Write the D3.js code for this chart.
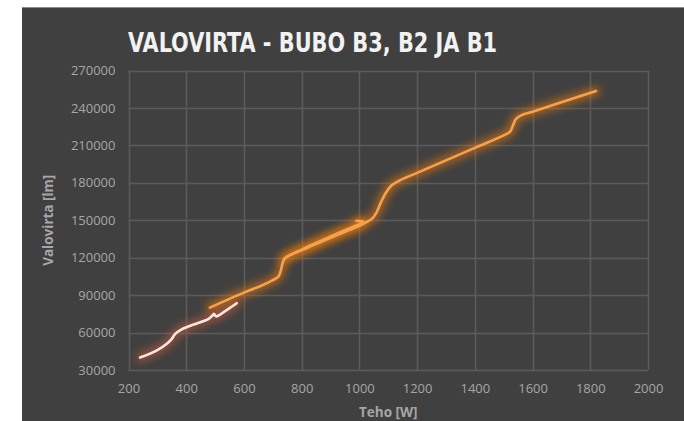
<!DOCTYPE html>
<html><head><meta charset="utf-8">
<script src="https://cdn.jsdelivr.net/npm/d3@7"></script>
<style>
html,body{margin:0;padding:0;background:#fff;}
svg{display:block;}
</style></head>
<body>
<svg id="chart" width="684" height="421"></svg>
<script>
// ---- data ----
const title = "VALOVIRTA - BUBO B3, B2 JA B1";
const xTitle = "Teho [W]";
const yTitle = "Valovirta [lm]";
const xTicks = [200, 400, 600, 800, 1000, 1200, 1400, 1600, 1800, 2000];
const yTicks = [30000, 60000, 90000, 120000, 150000, 180000, 210000, 240000, 270000];

const b1Watts  = [240, 300, 335, 350, 362, 380, 420, 478, 490, 496, 503, 540, 575];
const b1Lumens = [40000, 46000, 51500, 55000, 59000, 62000, 66000, 71000, 73500, 75000, 73000, 78000, 83500];

const b2Watts  = [482, 540, 600, 660, 700, 720, 728, 736, 748, 800, 860, 920, 975, 1005, 1012, 990];
const b2Lumens = [80000, 86000, 92000, 97500, 102000, 105000, 110000, 117000, 120500, 126500, 132800, 139000, 144500, 147500, 149000, 149500];

const b3Watts  = [738, 760, 820, 900, 980, 1020, 1045, 1060, 1075, 1092, 1112, 1140, 1200, 1300, 1400, 1500, 1522, 1532, 1542, 1560, 1600, 1700, 1820];
const b3Lumens = [119000, 122000, 128000, 136000, 143500, 148000, 151500, 156500, 164500, 172000, 178000, 182000, 188000, 198000, 208000, 218000, 221000, 226000, 231000, 234000, 237000, 244500, 253500];

const series = [
  {name: "B1", watts: b1Watts, lumens: b1Lumens, core: "#f7e6e0", glow: "#c8583a"},
  {name: "B2", watts: b2Watts, lumens: b2Lumens, core: "#f5a24c", glow: "#e8780f"},
  {name: "B3", watts: b3Watts, lumens: b3Lumens, core: "#f5a24c", glow: "#e8780f"}
];

// ---- layout ----
const svg = d3.select("#chart");
const W = 684, H = 421;
const x = d3.scaleLinear().domain([200, 2000]).range([128.5, 648]);
const y = d3.scaleLinear().domain([30000, 270000]).range([370, 70.5]);

const defs = svg.append("defs");
const f = defs.append("filter").attr("id", "glow").attr("x", "-20%").attr("y", "-20%").attr("width", "140%").attr("height", "140%");
f.append("feGaussianBlur").attr("stdDeviation", 4);

svg.append("rect").attr("x", 22).attr("y", 7).attr("width", W - 22).attr("height", H - 7).attr("fill", "#404040");
svg.append("line").attr("x1", 22).attr("x2", W).attr("y1", 7.5).attr("y2", 7.5).attr("stroke", "#8a8a8a").attr("stroke-width", 1);

// grid
const grid = svg.append("g");
grid.selectAll("line.h").data(yTicks).enter().append("line")
  .attr("x1", x(200)).attr("x2", x(2000))
  .attr("y1", d => Math.round(y(d)) + 0.5).attr("y2", d => Math.round(y(d)) + 0.5)
  .attr("stroke", "#5b5b5b").attr("stroke-width", 1.5);
grid.selectAll("line.v").data(xTicks).enter().append("line")
  .attr("x1", d => Math.round(x(d)) + 0.5).attr("x2", d => Math.round(x(d)) + 0.5)
  .attr("y1", y(270000)).attr("y2", y(30000))
  .attr("stroke", "#5b5b5b").attr("stroke-width", 1.5);

// axes (labels only)
const xAxis = d3.axisBottom(x).tickValues(xTicks).tickFormat(d3.format("d")).tickSize(0).tickPadding(14);
const gx = svg.append("g").attr("transform", `translate(0,${y(30000)})`).call(xAxis);
gx.select(".domain").remove();
gx.selectAll("text").attr("fill", "#a6a6a6").style("font-family", "'Open Sans', sans-serif").style("font-size", "13px");

const yAxis = d3.axisLeft(y).tickValues(yTicks).tickFormat(d3.format("d")).tickSize(0).tickPadding(13);
const gy = svg.append("g").attr("transform", `translate(${x(200)},0)`).call(yAxis);
gy.select(".domain").remove();
gy.selectAll("text").attr("fill", "#a6a6a6").style("font-family", "'Open Sans', sans-serif").style("font-size", "13px");

// lines
const line = d3.line().x(d => x(d[0])).y(d => y(d[1])).curve(d3.curveCatmullRom.alpha(0.5));
series.forEach(s => {
  const pts = s.watts.map((w, i) => [w, s.lumens[i]]);
  svg.append("path").attr("d", line(pts)).attr("fill", "none")
    .attr("stroke", s.glow).attr("stroke-width", 8).attr("stroke-opacity", 0.7)
    .attr("stroke-linecap", "round").attr("filter", "url(#glow)");
});
series.forEach(s => {
  const pts = s.watts.map((w, i) => [w, s.lumens[i]]);
  svg.append("path").attr("d", line(pts)).attr("fill", "none")
    .attr("stroke", s.core).attr("stroke-width", 2.6)
    .attr("stroke-linecap", "round").attr("stroke-linejoin", "round");
});

// titles
svg.append("text").attr("x", 128).attr("y", 52)
  .attr("fill", "#f2f2f2").style("font-family", "'Liberation Sans Narrow', 'DejaVu Sans Condensed', sans-serif")
  .style("font-weight", "bold").style("font-size", "27px")
  .attr("textLength", 369).attr("lengthAdjust", "spacingAndGlyphs")
  .text(title);

svg.append("text").attr("x", (x(200) + x(2000)) / 2).attr("y", 417)
  .attr("text-anchor", "middle").attr("fill", "#a6a6a6")
  .style("font-family", "'Open Sans', sans-serif").style("font-weight", "bold").style("font-size", "13.5px")
  .text(xTitle);

svg.append("text").attr("transform", `translate(53,${(y(30000) + y(270000)) / 2}) rotate(-90)`)
  .attr("text-anchor", "middle").attr("fill", "#a6a6a6")
  .style("font-family", "'Open Sans', sans-serif").style("font-weight", "bold").style("font-size", "13.5px")
  .text(yTitle);
</script>
</body></html>
